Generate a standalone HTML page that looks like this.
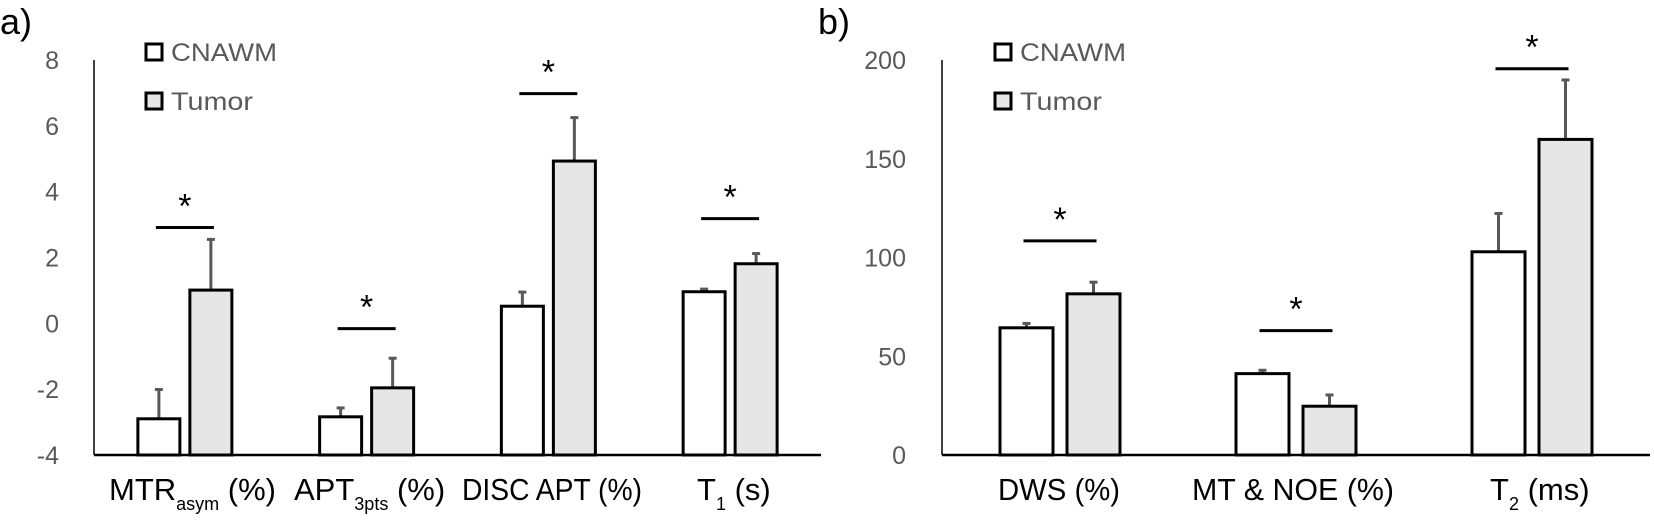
<!DOCTYPE html>
<html><head><meta charset="utf-8"><style>
html,body{margin:0;padding:0;background:#fff;}
svg{display:block;font-family:"Liberation Sans",sans-serif;}
</style></head><body>
<svg id="chart" width="1654" height="520" viewBox="0 0 1654 520"></svg>
<script>
// Panel a data
const catsA = ["MTR","APT","DISC APT","T1"];
const cnawmA = [-2.9, -2.84, 0.52, 0.96];
const cnawmErrA = [0.89, 0.27, 0.43, 0.08];
const tumorA = [1.01, -1.96, 4.93, 1.81];
const tumorErrA = [1.54, 0.9, 1.32, 0.31];
const sigA = [2.91, -0.16, 6.98, 3.18];
const ticksA = [-4,-2,0,2,4,6,8];
// Panel b data
const catsB = ["DWS","MT & NOE","T2"];
const cnawmB = [64.4, 41.2, 102.9];
const cnawmErrB = [2.2, 1.7, 19.4];
const tumorB = [81.6, 24.7, 159.8];
const tumorErrB = [5.9, 5.7, 30.1];
const sigB = [108.4, 63, 195.6];
const ticksB = [0,50,100,150,200];

const NS="http://www.w3.org/2000/svg";
const svg=document.getElementById('chart');
function mk(tag,attrs,parent){const e=document.createElementNS(NS,tag);for(const k in attrs)e.setAttribute(k,attrs[k]);(parent||svg).appendChild(e);return e;}

function panel(cfg){
  const g=mk('g',{});
  
  
  const y=v=>cfg.y0-(v-cfg.min)/(cfg.max-cfg.min)*(cfg.y0-cfg.y1);
  const n=cfg.cats.length, step=(cfg.xEnd-cfg.x0)/n;
  cfg.ticks.forEach(t=>{
    const tx=mk('text',{x:cfg.tickX,y:y(t)+9,'text-anchor':'end','font-size':25,fill:'#595959'},g);
    tx.textContent=t;
    
    
  });
  const ya=mk('line',{x1:cfg.x0,x2:cfg.x0,y1:y(cfg.max),y2:y(cfg.min),stroke:'#000','stroke-width':1.5},g);
  
  
  for(let i=0;i<n;i++){
    const c=cfg.x0+step*(i+0.5);
    const xa=c-cfg.gap/2-cfg.bw, xb=c+cfg.gap/2;
    [[xa,cfg.cn[i],cfg.cnE[i],'#fff','bar-cnawm'],[xb,cfg.tu[i],cfg.tuE[i],'#e6e6e6','bar-tumor']].forEach(([bx,v,e,f,nm])=>{
      const eb=mk('line',{x1:bx+cfg.bw/2,x2:bx+cfg.bw/2,y1:y(v),y2:y(v+e),stroke:'#595959','stroke-width':3},g);
      
      
      const cap=mk('line',{x1:bx+cfg.bw/2-4,x2:bx+cfg.bw/2+4,y1:y(v+e),y2:y(v+e),stroke:'#595959','stroke-width':3},g);
      
      
      const top=Math.max(v,cfg.min);
      const r=mk('rect',{x:bx,y:y(top),width:cfg.bw,height:y(cfg.min)-y(top),fill:f,stroke:'#000','stroke-width':3},g);
      
      
    });
    const l=mk('line',{x1:xa+cfg.bw/2-3,x2:xb+cfg.bw/2+3,y1:y(cfg.sig[i]),y2:y(cfg.sig[i]),stroke:'#000','stroke-width':3},g);
    
    
    const s=mk('text',{x:c,y:y(cfg.sig[i])-10,'text-anchor':'middle','font-size':34,fill:'#000'},g);
    s.textContent='*';
    
    
  }
  const xa=mk('line',{x1:cfg.x0,x2:cfg.xEnd,y1:y(cfg.min),y2:y(cfg.min),stroke:'#000','stroke-width':2.5},g);
  
  
}

panel({name:'panel-a',cats:catsA,cn:cnawmA,cnE:cnawmErrA,tu:tumorA,tuE:tumorErrA,sig:sigA,ticks:ticksA,
  min:-4,max:8,y0:455,y1:60,x0:94,xEnd:821,bw:42,gap:10,tickX:59});
panel({name:'panel-b',cats:catsB,cn:cnawmB,cnE:cnawmErrB,tu:tumorB,tuE:tumorErrB,sig:sigB,ticks:ticksB,
  min:0,max:200,y0:455,y1:60,x0:942,xEnd:1650,bw:53,gap:14,tickX:906});
</script>
<svg width="1654" height="520" style="position:absolute;left:0;top:0;pointer-events:none">
  <text x="0" y="34" font-size="36" fill="#000">a)</text>
  <text x="818" y="34" font-size="36" fill="#000">b)</text>
  <g>
    <rect x="146" y="44" width="16" height="16" fill="#fff" stroke="#000" stroke-width="3"/>
    <text x="171" y="61" font-size="25" fill="#595959" textLength="106" lengthAdjust="spacingAndGlyphs">CNAWM</text>
    <rect x="146" y="93" width="16" height="16" fill="#e6e6e6" stroke="#000" stroke-width="3"/>
    <text x="171" y="110" font-size="25" fill="#595959" textLength="82" lengthAdjust="spacingAndGlyphs">Tumor</text>
  </g>
  <g>
    <rect x="995" y="44" width="16" height="16" fill="#fff" stroke="#000" stroke-width="3"/>
    <text x="1020" y="61" font-size="25" fill="#595959" textLength="106" lengthAdjust="spacingAndGlyphs">CNAWM</text>
    <rect x="995" y="93" width="16" height="16" fill="#e6e6e6" stroke="#000" stroke-width="3"/>
    <text x="1020" y="110" font-size="25" fill="#595959" textLength="82" lengthAdjust="spacingAndGlyphs">Tumor</text>
  </g>
  <g font-size="31" fill="#000">
    <text x="109" y="500">MTR<tspan font-size="18" dy="10">asym</tspan><tspan dy="-10"> (%)</tspan></text>
    <text x="294" y="500">APT<tspan font-size="18" dy="10">3pts</tspan><tspan dy="-10"> (%)</tspan></text>
    <text x="462" y="500" textLength="180" lengthAdjust="spacingAndGlyphs">DISC APT (%)</text>
    <text x="697" y="500">T<tspan font-size="18" dy="10">1</tspan><tspan dy="-10"> (s)</tspan></text>
    <text x="998" y="500" textLength="122" lengthAdjust="spacingAndGlyphs">DWS (%)</text>
    <text x="1192" y="500" textLength="202" lengthAdjust="spacingAndGlyphs">MT &amp; NOE (%)</text>
    <text x="1490" y="500">T<tspan font-size="18" dy="10">2</tspan><tspan dy="-10"> (ms)</tspan></text>
  </g>
</svg>
</body></html>
